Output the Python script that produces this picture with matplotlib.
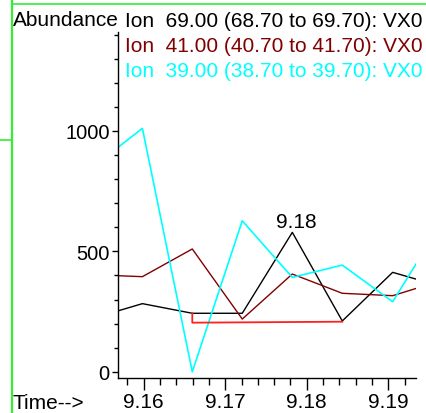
import matplotlib
matplotlib.use("Agg")
import matplotlib.pyplot as plt
from matplotlib.ticker import MultipleLocator, FixedLocator, FixedFormatter
from matplotlib.lines import Line2D

plt.rcParams['font.family'] = ['Liberation Sans', 'DejaVu Sans']

# Retention time (min) and extracted-ion abundances
times = [9.15685, 9.15984, 9.16596, 9.17209, 9.17823, 9.18436, 9.19054, 9.19340]
ion69 = [253, 283, 243, 243, 579, 211, 413, 385]
ion41 = [399, 395, 510, 219, 406, 326, 316, 346]
ion39 = [932, 1011, 0, 627, 392, 443, 291, 447]

# Integration baseline under the ion 69 peak
base_times = [9.16596, 9.16596, 9.18436]
base_values = [243, 204, 208]

legend_lines = [
    ("Ion  69.00 (68.70 to 69.70): VX0", "#000000"),
    ("Ion  41.00 (40.70 to 41.70): VX0", "#800000"),
    ("Ion  39.00 (38.70 to 39.70): VX0", "#00FFFF"),
]
xticks = [9.16, 9.17, 9.18, 9.19]
xtick_labels = ["9.16", "9.17", "9.18", "9.19"]
yticks = [0, 500, 1000]
ytick_labels = ["0", "500", "1000"]

W, H = 426, 414
fig = plt.figure(figsize=(W / 100, H / 100), dpi=100)
fig.patch.set_facecolor("white")


def fx(px):
    return px / W


def fy(py):
    return 1 - py / H


ax = fig.add_axes([fx(118), fy(379.3), fx(416) - fx(118), fy(33) - fy(379.3)])
ax.set_facecolor("white")

ax.plot(times, ion69, color="#000000", lw=1.0, clip_on=True)
ax.plot(times, ion41, color="#800000", lw=1.0, clip_on=True)
ax.plot(times, ion39, color="#00FFFF", lw=1.2, clip_on=True)
ax.plot(base_times, base_values, color="#FF2020", lw=1.3)

ax.set_xlim(9.156848, 9.193403)
ax.set_ylim(-27, 1411)

for s in ("top", "right"):
    ax.spines[s].set_visible(False)
for s in ("left", "bottom"):
    ax.spines[s].set_linewidth(1.0)
    ax.spines[s].set_color("black")

ax.xaxis.set_major_locator(FixedLocator(xticks))
ax.xaxis.set_major_formatter(FixedFormatter(xtick_labels))
ax.xaxis.set_minor_locator(MultipleLocator(0.002))
ax.yaxis.set_major_locator(FixedLocator(yticks))
ax.yaxis.set_major_formatter(FixedFormatter(ytick_labels))
ax.yaxis.set_minor_locator(MultipleLocator(100))

ax.tick_params(axis="x", which="major", direction="out", length=8.6, width=1.0,
               labelsize=15, pad=1.5)
ax.tick_params(axis="x", which="minor", direction="out", length=5, width=1.0)
ax.tick_params(axis="y", which="major", direction="out", length=4, width=1.0,
               labelsize=14.5, pad=2)
ax.tick_params(axis="y", which="minor", direction="out", length=3, width=1.0)

# Label the apex of the ion 69 peak with its retention time
peak_i = max(range(len(ion69)), key=lambda i: ion69[i])
ax.annotate(f"{times[peak_i]:.2f}", xy=(times[peak_i], ion69[peak_i]),
            xytext=(4, 5), textcoords="offset pixels", ha="center",
            va="baseline", fontsize=15)

fig.text(fx(12.5), fy(26), "Abundance", fontsize=15, ha="left", va="baseline")
for i, (txt, col) in enumerate(legend_lines):
    fig.text(fx(125), fy(26.7 + 25 * i), txt, fontsize=15, color=col,
             ha="left", va="baseline")
fig.text(fx(12.5), fy(409), "Time-->", fontsize=15, ha="left", va="baseline")

# Window frame lines
green = "#33EE33"
fig.add_artist(Line2D([fx(11.7), fx(11.7)], [0, 1], color=green, lw=1.6))
fig.add_artist(Line2D([fx(11.7), 1], [fy(4.7), fy(4.7)], color=green, lw=1.2))
fig.add_artist(Line2D([0, fx(11.7)], [fy(141), fy(141)], color=green, lw=1.2))

fig.savefig("out.png", dpi=100)
